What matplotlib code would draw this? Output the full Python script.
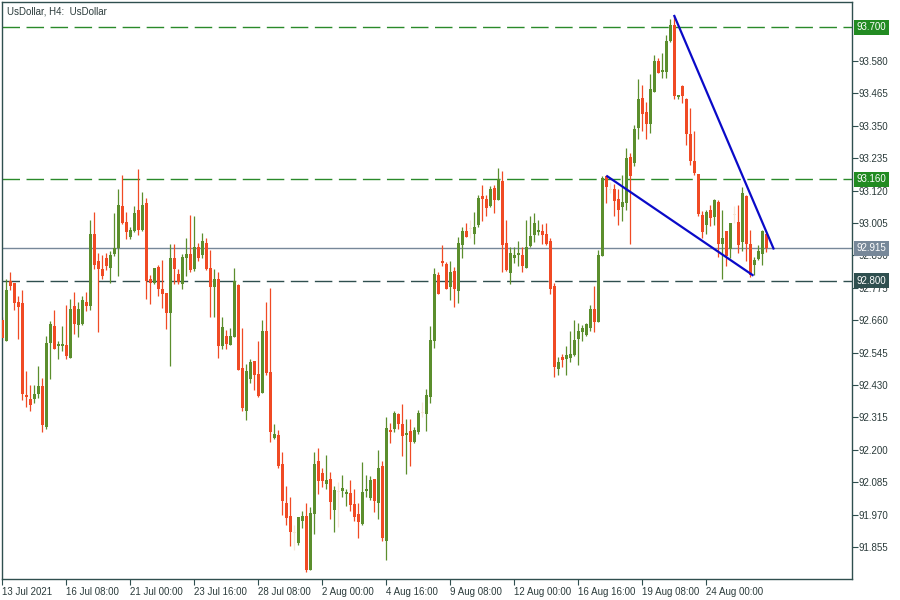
import matplotlib
matplotlib.use('Agg')
import matplotlib.pyplot as plt
import matplotlib.transforms as mtransforms
import numpy as np

plt.rcParams['lines.scale_dashes'] = False
plt.rcParams['font.family'] = ['Liberation Sans', 'DejaVu Sans']

# H4 candles, first one is partially hidden behind the left frame
opens = [92.661, 92.587, 92.799, 92.791, 92.724, 92.720, 92.394, 92.380, 92.379, 92.400, 92.426,
         92.282, 92.578, 92.639, 92.570, 92.570, 92.571, 92.527, 92.710, 92.643, 92.646,
         92.724, 92.710, 92.966, 92.870, 92.842, 92.881, 92.846, 92.895, 92.915, 93.065,
         93.008, 92.956, 92.976, 93.051, 92.980, 93.076, 92.806, 92.792, 92.849, 92.771,
         92.756, 92.685, 92.881, 92.824, 92.788, 92.881, 92.895, 92.842, 92.920, 92.892,
         92.934, 92.845, 92.779, 92.806, 92.570, 92.604, 92.573, 92.601, 92.785, 92.490,
         92.339, 92.452, 92.515, 92.469, 92.403, 92.622, 92.476, 92.242, 92.253, 92.150,
         92.011, 91.965, 91.904, 91.869, 91.949, 91.965, 91.774, 91.974, 92.160, 92.118,
         92.079, 92.097, 91.988, 92.052, 92.054, 92.043, 92.047, 92.008, 91.972, 91.938,
         92.054, 92.029, 92.097, 92.011, 92.143, 91.878, 92.270, 92.275, 92.327, 92.292,
         92.254, 92.267, 92.228, 92.264, 92.332, 92.328, 92.389, 92.586, 92.820, 92.870,
         92.859, 92.779, 92.834, 92.765, 92.928, 92.976, 92.985, 92.966, 92.998, 93.101,
         93.090, 93.066, 93.129, 93.088, 93.154, 92.934, 92.828, 92.882, 92.891, 92.891,
         92.845, 92.923, 92.962, 92.973, 92.976, 92.966, 92.941, 92.781, 92.487, 92.529,
         92.522, 92.526, 92.536, 92.593, 92.618, 92.607, 92.632, 92.700, 92.655, 92.888,
         93.172, 93.122, 93.125, 93.090, 93.062, 93.076, 93.239, 93.218, 93.343, 93.448,
         93.399, 93.356, 93.470, 93.580, 93.539, 93.541, 93.650, 93.707, 93.452, 93.491,
         93.445, 93.321, 93.225, 93.179, 93.033, 92.998, 93.051, 93.026, 93.079, 92.930,
         92.976, 92.912, 93.033, 93.008, 92.937, 93.101, 92.930, 92.856, 92.877, 92.895, 92.966]

highs = [92.672, 92.808, 92.830, 92.791, 92.746, 92.769, 92.480, 92.430, 92.430, 92.497, 92.454,
         92.604, 92.658, 92.696, 92.586, 92.639, 92.714, 92.735, 92.760, 92.724, 92.746,
         92.760, 93.015, 93.044, 92.898, 92.891, 92.898, 92.905, 93.040, 93.125, 93.175,
         93.044, 92.991, 93.065, 93.196, 93.115, 93.093, 92.820, 92.845, 92.856, 92.873,
         92.756, 92.930, 92.930, 92.842, 92.895, 92.952, 93.033, 93.030, 92.934, 92.969,
         92.952, 92.909, 92.842, 92.831, 92.671, 92.625, 92.632, 92.845, 92.788, 92.632,
         92.505, 92.522, 92.515, 92.586, 92.661, 92.725, 92.774, 92.292, 92.270, 92.192,
         92.072, 92.033, 91.933, 91.962, 91.983, 92.011, 91.997, 92.192, 92.206, 92.136,
         92.182, 92.121, 92.072, 92.086, 92.111, 92.061, 92.093, 92.061, 92.011, 92.157,
         92.111, 92.107, 92.097, 92.199, 92.160, 92.317, 92.295, 92.338, 92.331, 92.363,
         92.309, 92.309, 92.281, 92.341, 92.370, 92.416, 92.639, 92.845, 92.831, 92.927,
         92.866, 92.870, 92.849, 92.955, 92.991, 93.005, 93.015, 93.044, 93.104, 93.140,
         93.104, 93.136, 93.140, 93.200, 93.189, 93.015, 92.920, 92.920, 92.941, 92.920,
         93.015, 93.030, 93.040, 93.015, 93.001, 93.005, 92.952, 92.792, 92.529, 92.540,
         92.568, 92.622, 92.661, 92.650, 92.643, 92.650, 92.714, 92.781, 92.909, 93.172,
         93.175, 93.151, 93.143, 93.125, 93.175, 93.271, 93.253, 93.352, 93.516, 93.494,
         93.434, 93.533, 93.601, 93.590, 93.608, 93.672, 93.729, 93.739, 93.459, 93.494,
         93.448, 93.413, 93.331, 93.179, 93.047, 93.051, 93.069, 93.090, 93.086, 93.051,
         92.976, 93.005, 93.065, 93.069, 93.132, 93.104, 92.980, 92.884, 92.927, 92.980, 92.969]

lows = [92.590, 92.587, 92.767, 92.698, 92.593, 92.377, 92.351, 92.339, 92.367, 92.385, 92.264,
        92.275, 92.451, 92.559, 92.522, 92.551, 92.522, 92.527, 92.611, 92.601, 92.643,
        92.694, 92.696, 92.842, 92.618, 92.807, 92.838, 92.793, 92.889, 92.817, 93.001,
        92.949, 92.949, 92.973, 92.962, 92.976, 92.735, 92.717, 92.788, 92.746, 92.703,
        92.629, 92.497, 92.788, 92.788, 92.771, 92.817, 92.831, 92.834, 92.870, 92.882,
        92.838, 92.672, 92.672, 92.527, 92.559, 92.559, 92.573, 92.601, 92.484, 92.339,
        92.307, 92.438, 92.413, 92.389, 92.403, 92.467, 92.229, 92.238, 92.135, 91.970,
        91.934, 91.860, 91.845, 91.862, 91.924, 91.767, 91.774, 91.903, 92.044, 92.068,
        92.062, 91.956, 91.910, 91.927, 92.034, 92.000, 91.984, 91.949, 91.888, 91.934,
        92.034, 92.022, 91.981, 91.956, 91.878, 91.810, 92.225, 92.264, 92.274, 92.179,
        92.115, 92.144, 92.225, 92.257, 92.318, 92.268, 92.367, 92.561, 92.754, 92.852,
        92.772, 92.733, 92.708, 92.722, 92.882, 92.956, 92.952, 92.931, 92.991, 93.012,
        93.031, 93.063, 93.041, 93.086, 92.831, 92.834, 92.790, 92.864, 92.852, 92.831,
        92.845, 92.920, 92.937, 92.962, 92.930, 92.927, 92.753, 92.458, 92.465, 92.494,
        92.465, 92.512, 92.533, 92.501, 92.586, 92.604, 92.622, 92.619, 92.655, 92.888,
        93.077, 93.110, 93.030, 92.998, 93.012, 93.051, 92.930, 93.207, 93.303, 93.331,
        93.303, 93.324, 93.470, 93.537, 93.519, 93.519, 93.647, 93.445, 93.445, 93.431,
        93.282, 93.211, 93.175, 93.030, 92.952, 92.966, 92.994, 92.998, 92.884, 92.807,
        92.852, 92.881, 93.004, 92.898, 92.905, 92.871, 92.813, 92.820, 92.874, 92.856, 92.902]

closes = [92.596, 92.767, 92.781, 92.722, 92.708, 92.400, 92.389, 92.361, 92.400, 92.426, 92.288,
          92.579, 92.646, 92.559, 92.575, 92.575, 92.533, 92.700, 92.646, 92.700, 92.732,
          92.710, 92.966, 92.856, 92.842, 92.817, 92.852, 92.891, 92.918, 93.069, 93.005,
          92.974, 92.980, 93.040, 92.980, 93.069, 92.798, 92.791, 92.845, 92.771, 92.754,
          92.685, 92.881, 92.842, 92.795, 92.884, 92.895, 92.838, 92.920, 92.881, 92.941,
          92.842, 92.779, 92.806, 92.570, 92.636, 92.577, 92.604, 92.799, 92.484, 92.350,
          92.480, 92.512, 92.467, 92.392, 92.622, 92.474, 92.264, 92.256, 92.143, 92.020,
          91.959, 91.910, 91.904, 91.962, 91.965, 91.774, 91.976, 92.150, 92.089, 92.089,
          92.093, 92.014, 92.058, 92.052, 92.065, 92.050, 92.004, 91.962, 91.945, 92.050,
          92.061, 92.093, 92.018, 92.136, 91.888, 92.277, 92.263, 92.331, 92.292, 92.250,
          92.260, 92.228, 92.270, 92.331, 92.332, 92.395, 92.590, 92.824, 92.754, 92.863,
          92.772, 92.831, 92.772, 92.934, 92.976, 92.956, 92.985, 92.991, 93.093, 93.091,
          93.059, 93.125, 93.088, 93.161, 92.928, 92.838, 92.898, 92.891, 92.898, 92.852,
          92.920, 92.959, 93.005, 92.980, 92.962, 92.930, 92.771, 92.494, 92.512, 92.519,
          92.536, 92.540, 92.590, 92.622, 92.632, 92.646, 92.700, 92.655, 92.891, 93.164,
          93.134, 93.122, 93.083, 93.051, 93.079, 93.235, 93.172, 93.338, 93.445, 93.391,
          93.356, 93.480, 93.580, 93.537, 93.548, 93.650, 93.707, 93.455, 93.459, 93.455,
          93.321, 93.225, 93.182, 93.037, 92.973, 93.044, 93.022, 93.086, 92.930, 92.952,
          92.888, 93.005, 93.033, 92.927, 93.111, 92.930, 92.820, 92.874, 92.905, 92.976, 92.915]

x_labels = ['13 Jul 2021', '16 Jul 08:00', '21 Jul 00:00', '23 Jul 16:00', '28 Jul 08:00',
            '2 Aug 00:00', '4 Aug 16:00', '9 Aug 08:00', '12 Aug 00:00', '16 Aug 16:00',
            '19 Aug 08:00', '24 Aug 00:00']
x_label_bars = [-1, 15, 31, 47, 63, 79, 95, 111, 127, 143, 159, 175]

y_ticks = [91.855, 91.970, 92.085, 92.200, 92.315, 92.430, 92.545, 92.660, 92.775,
           92.890, 93.005, 93.120, 93.235, 93.350, 93.465, 93.580]

level_values = [93.700, 93.160, 92.800]
level_colors = ['#2a8a2a', '#2a8a2a', '#2f4f4f']
level_box_colors = ['#228b22', '#228b22', '#2f4f4f']
bid_price = 92.915

# trend lines (bar index, price)
upper_line_x = [166.9, 191.9]
upper_line_y = [93.743, 92.911]
lower_line_x = [150.0, 186.8]
lower_line_y = [93.173, 92.818]

GREEN = '#5b8e2d'
RED = '#f04a24'
DOJI = '#f6e6d6'
FRAME = '#2f4f4f'
TEXT = '#2b3b3b'

fig = plt.figure(figsize=(9, 6), dpi=100)
fig.patch.set_facecolor('white')
ax = fig.add_axes([2 / 900, 21 / 600, 850 / 900, 577 / 600])
ax.set_facecolor('white')

o = np.array(opens); h = np.array(highs); l = np.array(lows); c = np.array(closes)
idx = np.arange(len(o)) - 1
colors = np.where(c > o, GREEN, np.where(c < o, RED, DOJI))

# levels & bid line
for v, col in zip(level_values, level_colors):
    ax.axhline(v, color=col, lw=1.0, dashes=(12.6, 4.7), zorder=1)
ax.axhline(bid_price, color='#778899', lw=1.0, zorder=1)

# wicks
ax.vlines(idx, l, h, colors=colors, lw=0.9, zorder=2)
# bodies
bottoms = np.minimum(o, c)
heights = np.maximum(np.abs(c - o), 0.0035)
ax.bar(idx, heights, bottom=bottoms, width=0.72, color=colors, linewidth=0, zorder=3)

# trend lines
ax.plot(upper_line_x, upper_line_y, color='#0a0ac8', lw=1.6, zorder=4, solid_capstyle='butt')
ax.plot(lower_line_x, lower_line_y, color='#0a0ac8', lw=1.6, zorder=4, solid_capstyle='butt')

ax.set_xlim(-1.08, 211.42)
ax.set_ylim(91.742, 93.789)

for s in ax.spines.values():
    s.set_color(FRAME)
    s.set_linewidth(1.0)

ax.yaxis.tick_right()
ax.set_yticks(y_ticks)
ax.set_yticklabels([f'{v:.3f}' for v in y_ticks])
ax.tick_params(axis='y', direction='out', length=4, width=0.8, color=FRAME,
               labelsize=7, labelcolor=TEXT, pad=1)
ax.set_xticks(x_label_bars)
ax.set_xticklabels(x_labels)
ax.tick_params(axis='x', direction='out', length=4, width=0.8, color=FRAME,
               labelsize=7, labelcolor=TEXT, pad=1.5)
for lab in ax.get_xticklabels():
    lab.set_horizontalalignment('left')

# price boxes on right axis
trans = mtransforms.blended_transform_factory(ax.transAxes, ax.transData)
box_vals = level_values + [bid_price]
box_cols = level_box_colors + ['#778899']
for v, col in zip(box_vals, box_cols):
    ax.text(1.0055, v, f'{v:.3f}', transform=trans, ha='left', va='center', fontsize=7,
            color='white', clip_on=False, zorder=10,
            bbox=dict(boxstyle='square,pad=0.25', facecolor=col, edgecolor='none'))

ax.text(5 / 850, 1 - 9 / 577, 'UsDollar, H4:  UsDollar', transform=ax.transAxes,
        ha='left', va='center', fontsize=7, color=TEXT)

fig.savefig('out.png', dpi=100, facecolor='white')
